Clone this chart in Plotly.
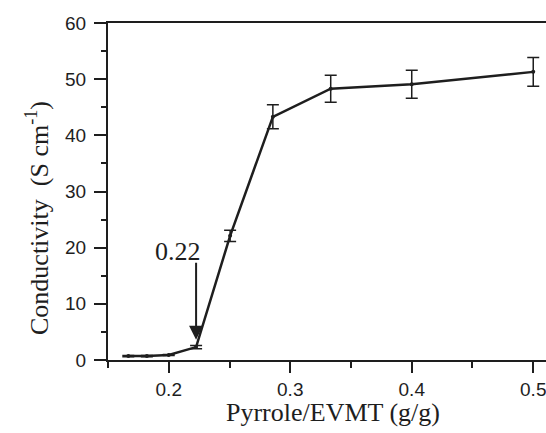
import plotly.graph_objects as go

ratio = [0.1667, 0.182, 0.2, 0.2225, 0.2505, 0.2857, 0.3333, 0.4, 0.5]
conductivity = [0.7, 0.7, 0.9, 2.3, 22.1, 43.3, 48.3, 49.1, 51.3]
error = [0.1, 0.1, 0.1, 0.3, 1.0, 2.15, 2.4, 2.5, 2.55]

x_ticks = [0.2, 0.3, 0.4, 0.5]
x_minor_ticks = [0.15, 0.25, 0.35, 0.45]
y_ticks = [0, 10, 20, 30, 40, 50, 60]
y_minor_ticks = [5, 15, 25, 35, 45, 55]

threshold_x = 0.2225
threshold_label = "0.22"
x_title = "Pyrrole/EVMT (g/g)"
y_title = "Conductivity&nbsp; (S cm<sup>-1</sup>)"

ink = "#1e1e1e"

fig = go.Figure()
fig.add_trace(go.Scatter(
    x=ratio, y=conductivity, mode="lines+markers",
    line=dict(color=ink, width=2.5),
    marker=dict(color=ink, size=4),
    error_y=dict(type="data", array=error, visible=True, color=ink, thickness=1.5, width=6),
    showlegend=False,
))

fig.add_annotation(
    x=threshold_x, y=3.6, ax=threshold_x, ay=17.6, axref="x", ayref="y",
    xref="x", yref="y", showarrow=True, arrowhead=2, arrowsize=1.4, arrowwidth=2,
    arrowcolor=ink, text="",
)
fig.add_annotation(
    x=0.2073, y=19.4, xref="x", yref="y", showarrow=False, text=threshold_label,
    font=dict(family="Liberation Serif", size=26, color=ink),
)
fig.add_annotation(
    x=0.5137, y=-0.157, xref="paper", yref="paper", showarrow=False, text=x_title,
    xanchor="center", yanchor="middle",
    font=dict(family="Liberation Serif", size=26, color=ink),
)
fig.add_annotation(
    x=-0.1598, y=0.4214, xref="paper", yref="paper", showarrow=False, text=y_title,
    textangle=-90, xanchor="center", yanchor="middle",
    font=dict(family="Liberation Serif", size=26, color=ink),
)

fig.update_layout(
    width=546, height=433,
    margin=dict(l=108, r=0, t=23, b=73),
    paper_bgcolor="white", plot_bgcolor="white",
    font=dict(family="Liberation Sans", color=ink),
)
fig.update_xaxes(
    range=[0.15, 0.5105], tickmode="array", tickvals=x_ticks,
    ticks="outside", ticklen=11, tickwidth=2, tickcolor=ink,
    minor=dict(tickmode="array", tickvals=x_minor_ticks, ticks="outside", ticklen=6, tickwidth=2, tickcolor=ink),
    showline=True, linewidth=2, linecolor=ink, mirror=True,
    showgrid=False, zeroline=False,
    ticklabeloverflow="allow",
    tickfont=dict(family="Liberation Sans", size=19, color=ink),
    automargin=False,
)
fig.update_yaxes(
    range=[0, 60], tickmode="array", tickvals=y_ticks,
    ticks="outside", ticklen=12, tickwidth=2, tickcolor=ink,
    minor=dict(tickmode="array", tickvals=y_minor_ticks, ticks="outside", ticklen=5, tickwidth=2, tickcolor=ink),
    showline=True, linewidth=2, linecolor=ink, mirror=False,
    showgrid=False, zeroline=False,
    tickfont=dict(family="Liberation Sans", size=19, color=ink),
    ticklabelstandoff=4,
    automargin=False,
)

fig.write_html("out.html", config={"displayModeBar": False},
               post_script="document.body.style.margin='0';")
